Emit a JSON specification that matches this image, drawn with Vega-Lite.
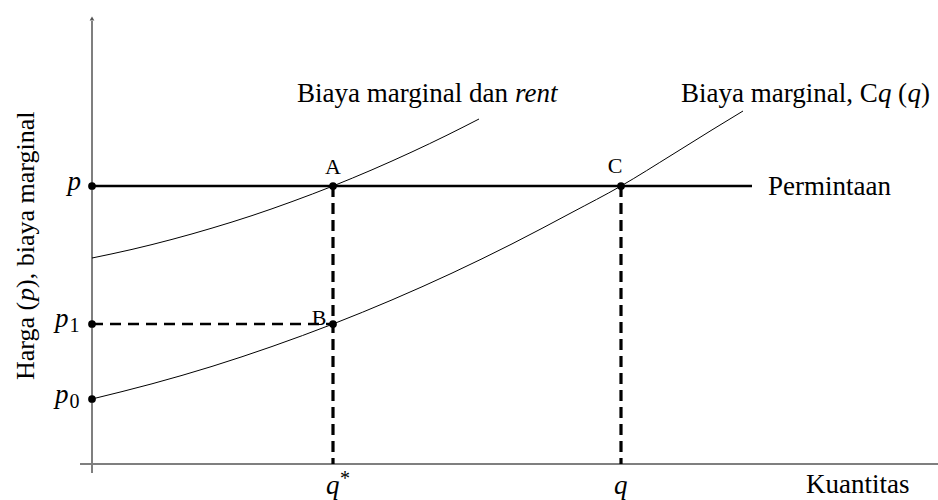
{
  "$schema": "https://vega.github.io/schema/vega-lite/v6.json",
  "width": 938,
  "height": 500,
  "autosize": {"type": "none"},
  "padding": 0,
  "background": "white",
  "config": {"view": {"stroke": null}, "text": {"font": "Liberation Serif, DejaVu Serif, serif"}},
  "datasets": {
    "segs": [
      {"seg": "axis", "x": 0, "y": -0.9, "x2": 0, "y2": 44.3},
      {"seg": "axis", "x": -1.2, "y": 0, "x2": 84.6, "y2": 0},
      {"seg": "demand", "x": 0, "y": 27.8, "x2": 66.0, "y2": 27.8},
      {"seg": "vdash", "x": 24.1, "y": 27.8, "x2": 24.1, "y2": 0},
      {"seg": "vdash", "x": 52.9, "y": 27.8, "x2": 52.9, "y2": 0},
      {"seg": "hdash", "x": 0, "y": 14.0, "x2": 24.1, "y2": 14.0}
    ],
    "curves": [
      {"curve": "rent", "x": 0, "y": 20.6},
      {"curve": "rent", "x": 4, "y": 21.46},
      {"curve": "rent", "x": 8, "y": 22.46},
      {"curve": "rent", "x": 12, "y": 23.59},
      {"curve": "rent", "x": 16, "y": 24.84},
      {"curve": "rent", "x": 20, "y": 26.24},
      {"curve": "rent", "x": 24.1, "y": 27.8},
      {"curve": "rent", "x": 28, "y": 29.42},
      {"curve": "rent", "x": 32, "y": 31.21},
      {"curve": "rent", "x": 35.5, "y": 32.88},
      {"curve": "rent", "x": 38.7, "y": 34.5},
      {"curve": "mc", "x": 0, "y": 6.5},
      {"curve": "mc", "x": 6, "y": 8.02},
      {"curve": "mc", "x": 12, "y": 9.76},
      {"curve": "mc", "x": 18, "y": 11.75},
      {"curve": "mc", "x": 24.1, "y": 14.0},
      {"curve": "mc", "x": 30, "y": 16.41},
      {"curve": "mc", "x": 36, "y": 19.09},
      {"curve": "mc", "x": 42, "y": 22.01},
      {"curve": "mc", "x": 48, "y": 25.16},
      {"curve": "mc", "x": 52.9, "y": 27.8},
      {"curve": "mc", "x": 58, "y": 30.92},
      {"curve": "mc", "x": 62, "y": 33.41},
      {"curve": "mc", "x": 65.1, "y": 35.3}
    ],
    "dots": [
      {"name": "p", "x": 0, "y": 27.8},
      {"name": "p1", "x": 0, "y": 14.0},
      {"name": "p0", "x": 0, "y": 6.5},
      {"name": "A", "x": 24.1, "y": 27.8},
      {"name": "B", "x": 24.1, "y": 14.0},
      {"name": "C", "x": 52.9, "y": 27.8}
    ],
    "arrow": [{"x": 0, "y": 44.55}],
    "labels": [
      {"style": "n", "x": 20.5, "y": 36.2, "text": "Biaya marginal dan"},
      {"style": "i", "x": 42.3, "y": 36.2, "text": "rent"},
      {"style": "n", "x": 58.9, "y": 36.2, "text": "Biaya marginal, C"},
      {"style": "i", "x": 78.6, "y": 36.2, "text": "q"},
      {"style": "n", "x": 80.6, "y": 36.2, "text": "("},
      {"style": "i", "x": 81.55, "y": 36.2, "text": "q"},
      {"style": "n", "x": 82.9, "y": 36.2, "text": ")"},
      {"style": "n", "x": 67.6, "y": 26.9, "text": "Permintaan"},
      {"style": "n", "x": 71.4, "y": -2.9, "text": "Kuantitas"},
      {"style": "i", "x": 23.4, "y": -3.0, "text": "q"},
      {"style": "s", "x": 24.8, "y": -2.1, "text": "*"},
      {"style": "i", "x": 52.2, "y": -3.0, "text": "q"},
      {"style": "i", "x": -2.45, "y": 27.4, "text": "p"},
      {"style": "i", "x": -3.7, "y": 13.7, "text": "p"},
      {"style": "s", "x": -2.25, "y": 13.2, "text": "1"},
      {"style": "i", "x": -3.7, "y": 6.1, "text": "p"},
      {"style": "s", "x": -2.25, "y": 5.6, "text": "0"},
      {"style": "c", "x": 24.1, "y": 29.0, "text": "A"},
      {"style": "c", "x": 22.7, "y": 13.9, "text": "B"},
      {"style": "c", "x": 52.3, "y": 29.1, "text": "C"},
      {"style": "tn", "x": -5.8, "y": 8.4, "text": "Harga ("},
      {"style": "ti", "x": -5.8, "y": 16.3, "text": "p"},
      {"style": "tn", "x": -5.8, "y": 17.6, "text": "), biaya marginal"}
    ]
  },
  "encoding": {
    "x": {"field": "x", "type": "quantitative", "axis": null, "scale": {"domain": [-9.2, 84.6], "nice": false, "zero": false}},
    "y": {"field": "y", "type": "quantitative", "axis": null, "scale": {"domain": [-3.6, 46.4], "nice": false, "zero": false}}
  },
  "layer": [
    {
      "data": {"name": "segs"},
      "transform": [{"filter": "datum.seg === 'axis'"}],
      "mark": {"type": "rule", "color": "#7f7f7f", "strokeWidth": 2},
      "encoding": {"x2": {"field": "x2"}, "y2": {"field": "y2"}}
    },
    {
      "data": {"name": "arrow"},
      "mark": {"type": "point", "shape": "triangle-up", "filled": true, "color": "#555555", "size": 22, "opacity": 1}
    },
    {
      "data": {"name": "curves"},
      "mark": {"type": "line", "color": "black", "strokeWidth": 1, "interpolate": "monotone"},
      "encoding": {"detail": {"field": "curve"}}
    },
    {
      "data": {"name": "segs"},
      "transform": [{"filter": "datum.seg === 'demand'"}],
      "mark": {"type": "rule", "color": "black", "strokeWidth": 2.5},
      "encoding": {"x2": {"field": "x2"}, "y2": {"field": "y2"}}
    },
    {
      "data": {"name": "segs"},
      "transform": [{"filter": "datum.seg === 'vdash'"}],
      "mark": {"type": "rule", "color": "black", "strokeWidth": 3.2, "strokeDash": [11, 6]},
      "encoding": {"x2": {"field": "x2"}, "y2": {"field": "y2"}}
    },
    {
      "data": {"name": "segs"},
      "transform": [{"filter": "datum.seg === 'hdash'"}],
      "mark": {"type": "rule", "color": "black", "strokeWidth": 2.6, "strokeDash": [11, 7]},
      "encoding": {"x2": {"field": "x2"}, "y2": {"field": "y2"}}
    },
    {
      "data": {"name": "dots"},
      "mark": {"type": "point", "shape": "circle", "filled": true, "color": "black", "size": 60, "opacity": 1}
    },
    {
      "data": {"name": "labels"},
      "transform": [{"filter": "datum.style === 'n'"}],
      "mark": {"type": "text", "align": "left", "baseline": "alphabetic", "font": "Liberation Serif, DejaVu Serif, serif", "fontSize": 27, "color": "black"},
      "encoding": {"text": {"field": "text"}}
    },
    {
      "data": {"name": "labels"},
      "transform": [{"filter": "datum.style === 'i'"}],
      "mark": {"type": "text", "align": "left", "baseline": "alphabetic", "font": "Liberation Serif, DejaVu Serif, serif", "fontStyle": "italic", "fontSize": 27, "color": "black"},
      "encoding": {"text": {"field": "text"}}
    },
    {
      "data": {"name": "labels"},
      "transform": [{"filter": "datum.style === 's'"}],
      "mark": {"type": "text", "align": "left", "baseline": "alphabetic", "font": "Liberation Serif, DejaVu Serif, serif", "fontSize": 20, "color": "black"},
      "encoding": {"text": {"field": "text"}}
    },
    {
      "data": {"name": "labels"},
      "transform": [{"filter": "datum.style === 'c'"}],
      "mark": {"type": "text", "align": "center", "baseline": "alphabetic", "font": "Liberation Serif, DejaVu Serif, serif", "fontSize": 22, "color": "black"},
      "encoding": {"text": {"field": "text"}}
    },
    {
      "data": {"name": "labels"},
      "transform": [{"filter": "datum.style === 'tn'"}],
      "mark": {"type": "text", "align": "left", "baseline": "alphabetic", "angle": 270, "font": "Liberation Serif, DejaVu Serif, serif", "fontSize": 26, "color": "black"},
      "encoding": {"text": {"field": "text"}}
    },
    {
      "data": {"name": "labels"},
      "transform": [{"filter": "datum.style === 'ti'"}],
      "mark": {"type": "text", "align": "left", "baseline": "alphabetic", "angle": 270, "font": "Liberation Serif, DejaVu Serif, serif", "fontStyle": "italic", "fontSize": 26, "color": "black"},
      "encoding": {"text": {"field": "text"}}
    }
  ]
}
